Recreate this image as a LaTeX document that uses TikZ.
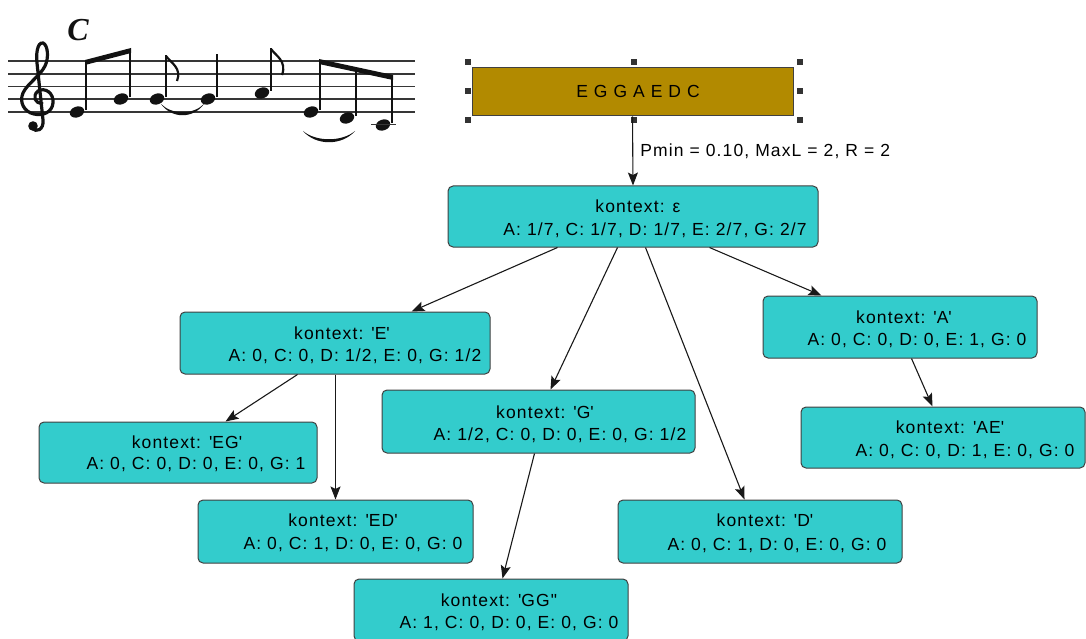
\documentclass[tikz,border=0pt]{standalone}
\usepackage{fontspec}
\setmainfont{Liberation Sans}
\newfontfamily\lblfont{Liberation Sans}[LetterSpace=6.5]
\newfontfamily\chordfont{Liberation Serif}
\usetikzlibrary{arrows.meta,calc}
\definecolor{ctxfill}{RGB}{51,204,204}
\definecolor{seqfill}{RGB}{178,138,0}
\definecolor{edgegray}{RGB}{64,64,64}
\definecolor{ink}{RGB}{18,18,18}
\newcommand\q{\textquotesingle}
\begin{document}
\begin{tikzpicture}[x=1pt,y=-1pt,
  ctx/.style={draw=edgegray, line width=1pt, fill=ctxfill, rounded corners=5pt, inner sep=0pt},
  seqbox/.style={draw=edgegray, line width=1pt, fill=seqfill, inner sep=0pt},
  handle/.style={fill=black!80, minimum size=6pt, inner sep=0pt},
  lbl/.style={font=\lblfont\fontsize{17.5}{20}\selectfont, inner sep=0pt, text=black, anchor=base},
  arr/.style={draw=black!90, line width=1.1pt, -{Stealth[length=13pt,width=10pt,inset=2.5pt]}},
  staff/.style={draw=ink!85, line width=1.5pt},
  stem/.style={draw=ink, line width=2pt},
  ]
\useasboundingbox (0,0) rectangle (1086,639);

% ---------- melody ----------
\node[font=\chordfont\bfseries\itshape\fontsize{32}{32}\selectfont, inner sep=0pt, anchor=base, text=ink] (chord) at (78,41) {C};
\foreach \yy in {61,74,86.5,99,112} \draw[staff] (8,\yy) -- (415,\yy);
% treble clef
\draw[ink, line width=3.2pt, line cap=round]
  (42,103) .. controls (35,104) and (32,96) .. (38,91)
  .. controls (45,87) and (54,93) .. (53,103)
  .. controls (52,113) and (42,116) .. (34,114)
  .. controls (24,112) and (19,102) .. (23,93)
  .. controls (27,84) and (40,76) .. (45,66)
  .. controls (49,58) and (48,45) .. (43,43)
  .. controls (37,42) and (36,55) .. (37,63)
  -- (43,120) .. controls (44,130) and (36,133) .. (32,128);
\fill[ink] (33,126) circle (4.8);
% note heads
\foreach \nx/\ny in {77/112,121/99,157/99,208/99,262/93,311/112,347/118,383/125}
  \fill[ink, rotate around={20:(\nx,\ny)}] (\nx,\ny) ellipse [x radius=7.4, y radius=5.4];
% ledger line for C
\draw[staff] (371,124.5) -- (396,124.5);
% stems
\draw[stem] (86,110) -- (86,62);
\draw[stem] (130,97) -- (130,50);
\draw[stem] (166,97) -- (166,55);
\draw[stem] (217,97) -- (217,54);
\draw[stem] (271,91) -- (271,48);
\draw[stem] (320,110) -- (320,61);
\draw[stem] (356,116) -- (356,69);
\draw[stem] (392,123) -- (392,77);
% beams
\fill[ink] (85,60) -- (131,48) -- (131,53) -- (85,65) -- cycle;
\fill[ink] (319,59) -- (393,75) -- (393,80) -- (319,64) -- cycle;
% flags
\draw[ink, line width=2.2pt] (166,56) .. controls (171,63) and (182,68) .. (177,81);
\draw[ink, line width=2.2pt] (271,49) .. controls (276,56) and (287,61) .. (282,75);
% tie and slur
\fill[ink] (161,104) .. controls (172,119) and (193,119) .. (204,104)
  .. controls (193,115) and (172,115) .. cycle;
\fill[ink] (303,131) .. controls (316,146) and (342,146) .. (355,131)
  .. controls (342,142) and (316,142) .. cycle;

% ---------- sequence box ----------
\node[seqbox, minimum width=321pt, minimum height=48pt] (seq) at (632.5,92) {};
\node[lbl] (seq-t) at (638,98) {E G G A E D C};
\foreach \hx/\hy [count=\i] in {-4/-5, 162/-5, 328/-5, -4/24, 328/24, -4/53, 162/53, 328/53}
  \node[handle] (h\i) at ($(seq.north west)+(\hx,\hy)$) {};

% ---------- context tree ----------
\node[ctx, minimum width=370pt, minimum height=61pt] (root) at (633,216.5) {};
\node[lbl] (root-a) at (638,212) {kontext: ε};
\node[lbl] (root-b) at (655,235) {A: 1/7, C: 1/7, D: 1/7, E: 2/7, G: 2/7};

\node[ctx, minimum width=310pt, minimum height=62pt] (E) at (335,343) {};
\node[lbl] (E-a) at (342,339) {kontext: \q E\q};
\node[lbl] (E-b) at (355,361) {A: 0, C: 0, D: 1/2, E: 0, G: 1/2};

\node[ctx, minimum width=278pt, minimum height=61pt] (EG) at (178,452.5) {};
\node[lbl] (EG-a) at (187,448) {kontext: \q EG\q};
\node[lbl] (EG-b) at (196,469) {A: 0, C: 0, D: 0, E: 0, G: 1};

\node[ctx, minimum width=275pt, minimum height=63pt] (ED) at (335.5,531.5) {};
\node[lbl] (ED-a) at (343,526) {kontext: \q ED\q};
\node[lbl] (ED-b) at (353,549) {A: 0, C: 1, D: 0, E: 0, G: 0};

\node[ctx, minimum width=313pt, minimum height=63pt] (G) at (538.5,421.5) {};
\node[lbl] (G-a) at (545,418) {kontext: \q G\q};
\node[lbl] (G-b) at (560,440) {A: 1/2, C: 0, D: 0, E: 0, G: 1/2};

\node[ctx, minimum width=274pt, minimum height=62pt] (GG) at (491,610) {};
\node[lbl] (GG-a) at (499,606) {kontext: \q GG"};
\node[lbl] (GG-b) at (509,628) {A: 1, C: 0, D: 0, E: 0, G: 0};

\node[ctx, minimum width=284pt, minimum height=63pt] (D) at (760,531.5) {};
\node[lbl] (D-a) at (765,526) {kontext: \q D\q};
\node[lbl] (D-b) at (777,550) {A: 0, C: 1, D: 0, E: 0, G: 0};

\node[ctx, minimum width=274pt, minimum height=62pt] (A) at (900,327) {};
\node[lbl] (A-a) at (904,323) {kontext: \q A\q};
\node[lbl] (A-b) at (917,345) {A: 0, C: 0, D: 0, E: 1, G: 0};

\node[ctx, minimum width=284pt, minimum height=61pt] (AE) at (943,437.5) {};
\node[lbl] (AE-a) at (950,433) {kontext: \q AE\q};
\node[lbl] (AE-b) at (965,456) {A: 0, C: 0, D: 1, E: 0, G: 0};

% ---------- connectors ----------
\draw[arr] (seq.south) -- (root.north)
  node[pos=0.5, lbl, anchor=west, xshift=7pt] (params) {Pmin = 0.10, MaxL = 2, R = 2};
\draw[arr] ($(root.south west)+(110,0)$) -- ($(E.north west)+(232,0)$);
\draw[arr] ($(root.south west)+(170,0)$) -- ($(G.north west)+(169,0)$);
\draw[arr] ($(root.south west)+(198,0)$) -- ($(D.north west)+(127,0)$);
\draw[arr] ($(root.south west)+(262,0)$) -- ($(A.north west)+(59,0)$);
\draw[arr] ($(E.south west)+(118,0)$) -- ($(EG.north west)+(187,0)$);
\draw[arr] ($(E.south west)+(156,0)$) -- ($(ED.north west)+(138,0)$);
\draw[arr] ($(G.south west)+(153,0)$) -- ($(GG.north west)+(149,0)$);
\draw[arr] ($(A.south west)+(149,0)$) -- ($(AE.north west)+(132,0)$);
\end{tikzpicture}
\end{document}
